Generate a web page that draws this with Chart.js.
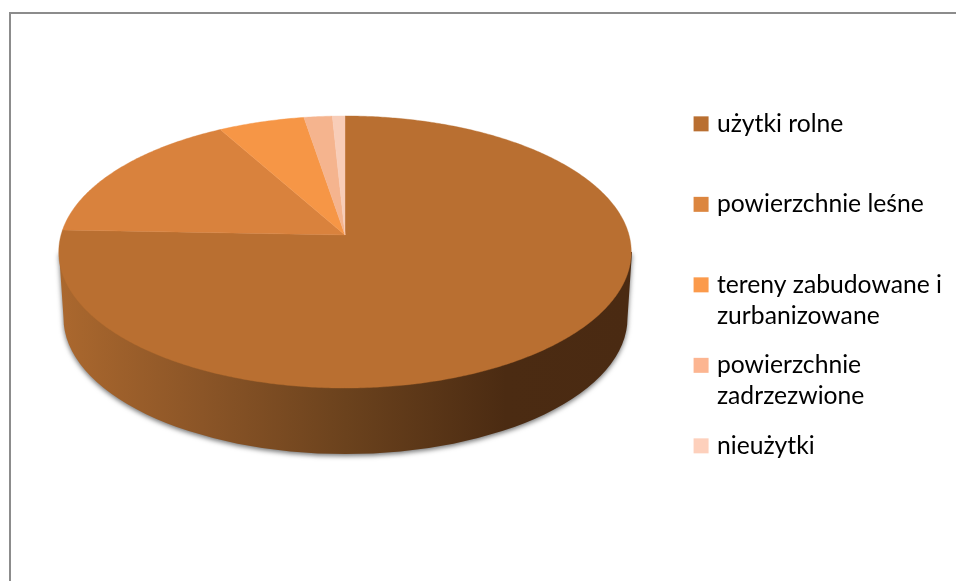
<!DOCTYPE html>
<html><head><meta charset="utf-8">
<style>html,body{margin:0;padding:0;background:#fff}canvas{display:block}</style>
<script src="https://cdn.jsdelivr.net/npm/chart.js@4"></script>
</head><body>
<canvas id="c" width="956" height="581"></canvas>
<script>
const categories = ["użytki rolne","powierzchnie leśne","tereny zabudowane i zurbanizowane","powierzchnie zadrzewione","nieużytki"];
const legendLines = [["użytki rolne",""],["powierzchnie leśne",""],["tereny zabudowane i","zurbanizowane"],["powierzchnie","zadrzezwione"],["nieużytki",""]];
const values = [75.6,16.3,5.5,1.8,0.8];
const colors = ["#b96f31","#d9823d","#f69646","#f5b48e","#f8cdb8"];
const legendColors = ["#b96f31","#dc863f","#fb9a4b","#fcb591","#fdd0bc"];

// perspective projection of the unit disc
const apexX=345, apexY=235, kx=284, ky=133.9, persp=0.125;
function project(t){ // t: chart angle (radians, -PI/2 = top)
  const a=Math.cos(t), b=Math.sin(t), d=1-persp*b;
  return [apexX+kx*a/d, apexY+ky*b/d];
}
function perspDraw(ctx){
  const {startAngle,endAngle}=this.getProps(['startAngle','endAngle']);
  const n=Math.max(2,Math.ceil((endAngle-startAngle)/0.01));
  ctx.save();
  ctx.beginPath();
  ctx.moveTo(apexX,apexY);
  for(let i=0;i<=n;i++){
    const p=project(startAngle+(endAngle-startAngle)*i/n);
    ctx.lineTo(p[0],p[1]);
  }
  ctx.closePath();
  ctx.fillStyle=this.options.backgroundColor;
  ctx.fill();
  ctx.strokeStyle=this.options.backgroundColor;
  ctx.lineWidth=0.4;
  ctx.stroke();
  ctx.restore();
}
const pie3d={
  id:'pie3d',
  beforeDraw(chart){
    const ctx=chart.ctx;
    ctx.save();
    ctx.fillStyle='#fff';ctx.fillRect(0,0,956,581);
    ctx.strokeStyle='#8c8c8c';ctx.lineWidth=2;
    ctx.beginPath();ctx.moveTo(10,581);ctx.lineTo(10,13);ctx.lineTo(956,13);ctx.stroke();
    ctx.restore();
  },
  beforeDatasetsDraw(chart){
    const ctx=chart.ctx;
    chart.getDatasetMeta(0).data.forEach(el=>{el.draw=perspDraw;});
    const g=ctx.createLinearGradient(59,0,632,0);
    g.addColorStop(0,'#ab682e');
    g.addColorStop(0.25,'#8b5527');
    g.addColorStop(0.5,'#6b421d');
    g.addColorStop(0.78,'#4b2b12');
    g.addColorStop(1,'#4a2a12');
    ctx.save();
    ctx.beginPath();
    ctx.moveTo(59,252);
    ctx.lineTo(63.5,318);
    ctx.ellipse(345.5,318,282,136,0,Math.PI,0,true);
    ctx.lineTo(632,252);
    ctx.closePath();
    ctx.shadowColor='rgba(0,0,0,0.55)';
    ctx.shadowBlur=5;
    ctx.shadowOffsetY=2;
    ctx.fillStyle=g;
    ctx.fill();
    ctx.restore();
  }
};
new Chart(document.getElementById('c'),{
  type:'pie',
  data:{labels:categories,datasets:[{data:values,backgroundColor:colors,borderWidth:0}]},
  options:{
    responsive:false,animation:false,
    layout:{padding:{top:93,right:4,left:0,bottom:0}},
    plugins:{
      tooltip:{enabled:false},
      legend:{
        position:'right',align:'start',
        labels:{
          boxWidth:7,boxHeight:7,padding:18.5,color:'#111',
          font:{family:'Lato',size:24.7,lineHeight:1.255},
          generateLabels(chart){
            return legendLines.map((t,i)=>({text:t,fillStyle:legendColors[i],strokeStyle:legendColors[i],lineWidth:8,index:i,hidden:false}));
          }
        }
      }
    }
  },
  plugins:[pie3d]
});
</script>
</body></html>
